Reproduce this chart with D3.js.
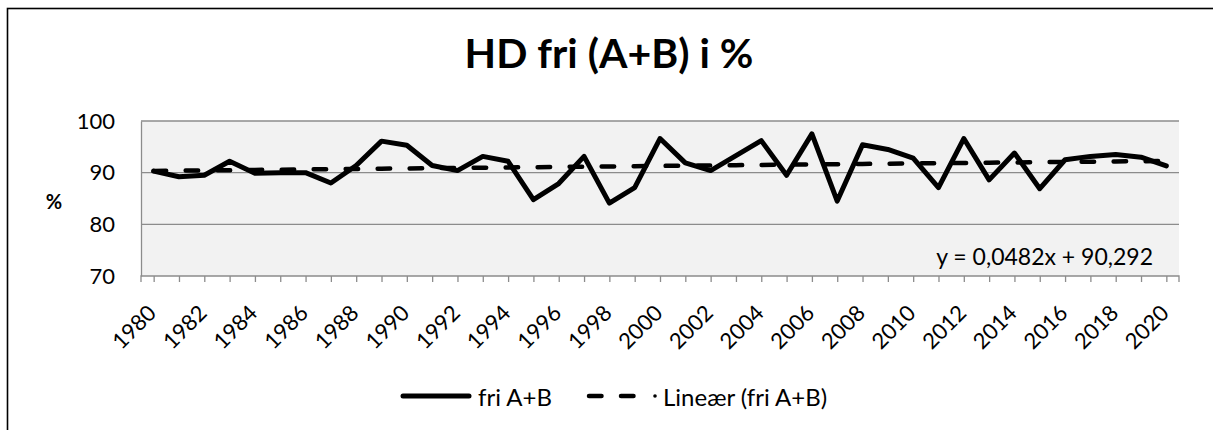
<!DOCTYPE html>
<html>
<head>
<meta charset="utf-8">
<script src="https://cdn.jsdelivr.net/npm/d3@7"></script>
<style>
  html, body { margin: 0; padding: 0; background: #fff; }
  svg { display: block; font-family: Lato, "Open Sans", sans-serif; }
</style>
</head>
<body>
<svg id="chart" width="1213" height="430"></svg>
<script>
// ---- Data ----
const years = [1980,1981,1982,1983,1984,1985,1986,1987,1988,1989,
               1990,1991,1992,1993,1994,1995,1996,1997,1998,1999,
               2000,2001,2002,2003,2004,2005,2006,2007,2008,2009,
               2010,2011,2012,2013,2014,2015,2016,2017,2018,2019,2020];
const friAB = [90.3, 89.2, 89.5, 92.2, 89.9, 90.0, 90.0, 88.0, 91.4, 96.1,
               95.3, 91.4, 90.4, 93.15, 92.2, 84.8, 87.9, 93.15, 84.1, 87.1,
               96.6, 91.9, 90.4, 93.3, 96.2, 89.5, 97.5, 84.5, 95.4, 94.5,
               92.8, 87.1, 96.6, 88.6, 93.8, 86.9, 92.5, 93.15, 93.5, 93.0, 91.3];
const trendSlope = 0.0482;
const trendIntercept = 90.292;
const yTicks = [70, 80, 90, 100];
const titleText = "HD fri (A+B) i %";
const yAxisTitle = "%";
const seriesName = "fri A+B";
const trendName = "Lineær (fri A+B)";
const equationText = "y = 0,0482x + 90,292";

// ---- Layout ----
const svg = d3.select("#chart");
const plot = { left: 141, right: 1179, top: 121, bottom: 276 };

const x = d3.scalePoint().domain(years).range([plot.left, plot.right]).padding(0.5);
const y = d3.scaleLinear().domain([70, 100]).range([plot.bottom, plot.top]);

// outer frame (only top/left visible)
svg.append("rect")
  .attr("x", 7.5).attr("y", 8.5).attr("width", 1230).attr("height", 450)
  .attr("fill", "none").attr("stroke", "#000").attr("stroke-width", 1.6);

// title
svg.append("text")
  .attr("x", 609).attr("y", 68)
  .attr("text-anchor", "middle")
  .attr("font-weight", "bold").attr("font-size", 41)
  .attr("fill", "#000")
  .text(titleText);

// plot background
svg.append("rect")
  .attr("x", plot.left).attr("y", plot.top)
  .attr("width", plot.right - plot.left).attr("height", plot.bottom - plot.top)
  .attr("fill", "#f2f2f2");

// gridlines
svg.append("g").selectAll("line")
  .data(yTicks.filter(d => d > 70))
  .join("line")
  .attr("x1", plot.left).attr("x2", plot.right)
  .attr("y1", d => y(d)).attr("y2", d => y(d))
  .attr("stroke", "#8c8c8c").attr("stroke-width", 1.3);

// y axis
const yAxis = svg.append("g")
  .attr("transform", `translate(${plot.left},0)`)
  .call(d3.axisLeft(y).tickValues(yTicks).tickSize(0).tickPadding(26).tickFormat(d3.format("d")));
yAxis.select(".domain").attr("stroke", "#8c8c8c").attr("stroke-width", 1.3);
yAxis.selectAll("text").attr("font-size", 22).attr("fill", "#000")
  .attr("font-family", "Lato, sans-serif");

// y axis title
svg.append("text")
  .attr("x", 54).attr("y", 201)
  .attr("text-anchor", "middle").attr("dominant-baseline", "central")
  .attr("font-weight", "bold").attr("font-size", 20)
  .text(yAxisTitle);

// x axis
const xAxis = svg.append("g")
  .attr("transform", `translate(0,${plot.bottom})`)
  .call(d3.axisBottom(x).tickValues(years).tickSize(6).tickSizeOuter(6)
        .tickFormat(d => (d % 2 === 0 ? String(d) : "")));
xAxis.select(".domain").attr("stroke", "#8c8c8c").attr("stroke-width", 1.3)
  .attr("d", `M${plot.left},6V0H${plot.right}V6`);
xAxis.selectAll(".tick line").attr("stroke", "#8c8c8c").attr("stroke-width", 1.3);
xAxis.selectAll(".tick text")
  .attr("font-size", 22).attr("fill", "#000").attr("font-family", "Lato, sans-serif")
  .attr("text-anchor", "end")
  .attr("dy", "0.35em")
  .attr("transform", "translate(-2,33) rotate(-45)")
  .attr("x", 0).attr("y", 0);

// trendline
const trendData = years.map((yr, i) => ({ yr, v: trendSlope * (i + 1) + trendIntercept }));
svg.append("path")
  .datum(trendData)
  .attr("fill", "none").attr("stroke", "#000").attr("stroke-width", 4.5)
  .attr("stroke-linecap", "round")
  .attr("stroke-dasharray", "12.5,19.5")
  .attr("d", d3.line().x(d => x(d.yr)).y(d => y(d.v)));

// main series line
svg.append("path")
  .datum(years.map((yr, i) => ({ yr, v: friAB[i] })))
  .attr("fill", "none").attr("stroke", "#000").attr("stroke-width", 5)
  .attr("stroke-linejoin", "round").attr("stroke-linecap", "round")
  .attr("d", d3.line().x(d => x(d.yr)).y(d => y(d.v)));

// equation label
svg.append("text")
  .attr("x", 1153).attr("y", 265)
  .attr("text-anchor", "end").attr("font-size", 23)
  .text(equationText);

// legend
const leg = svg.append("g");
leg.append("line").attr("x1", 403).attr("x2", 469).attr("y1", 396).attr("y2", 396)
  .attr("stroke", "#000").attr("stroke-width", 5).attr("stroke-linecap", "round");
leg.append("text").attr("x", 478).attr("y", 396).attr("dominant-baseline", "central")
  .attr("font-size", 24).text(seriesName);
leg.append("line").attr("x1", 589).attr("x2", 636).attr("y1", 396).attr("y2", 396)
  .attr("stroke", "#000").attr("stroke-width", 4.5).attr("stroke-linecap", "round")
  .attr("stroke-dasharray", "12.5,19.5");
leg.append("circle").attr("cx", 655).attr("cy", 396).attr("r", 1.8).attr("fill", "#000");
leg.append("text").attr("x", 663).attr("y", 396).attr("dominant-baseline", "central")
  .attr("font-size", 24).text(trendName);
</script>
</body>
</html>
